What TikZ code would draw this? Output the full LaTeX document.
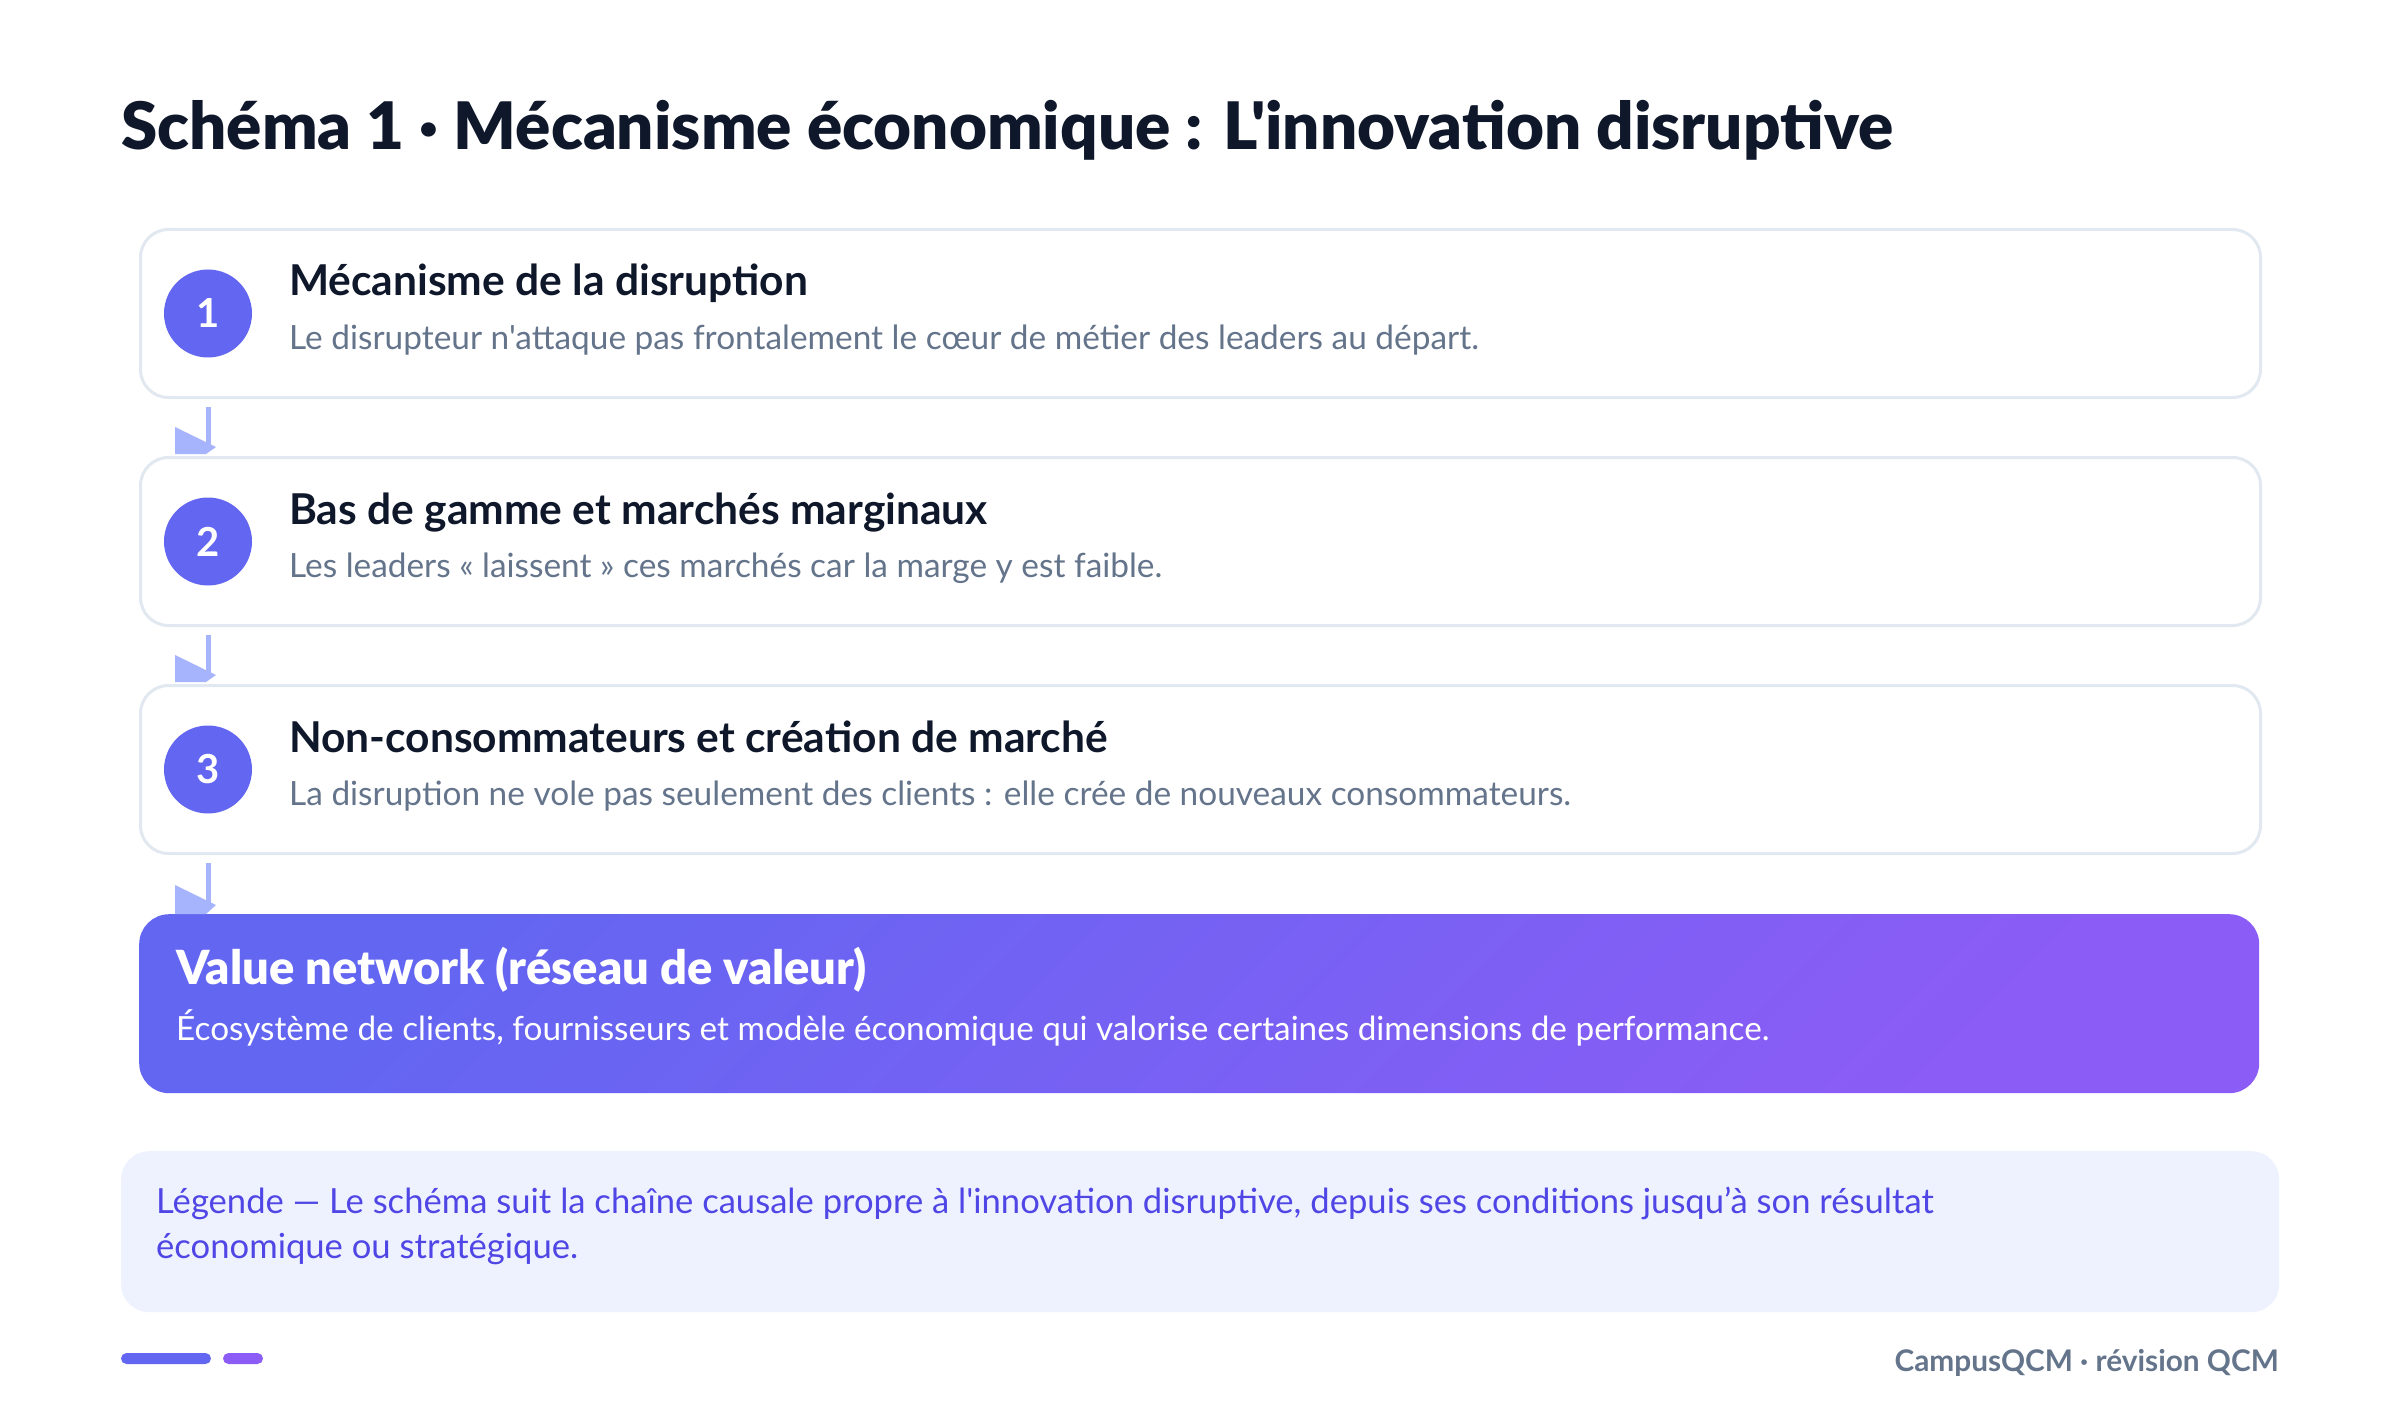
\documentclass[tikz,border=0pt]{standalone}
\usepackage{fontspec}
\setmainfont{Lato}[Ligatures=TeXOff]
\newfontfamily\heavyfont{Lato Black}[Ligatures=TeXOff]
\usetikzlibrary{calc}
\definecolor{ink}{HTML}{0F172A}
\definecolor{muted}{HTML}{64748B}
\definecolor{cardborder}{HTML}{E2E8F0}
\definecolor{indigo}{HTML}{6366F1}
\definecolor{violet}{HTML}{8B5CF6}
\definecolor{arrowc}{HTML}{A5B4FC}
\definecolor{legbg}{HTML}{EEF2FF}
\definecolor{legtext}{HTML}{4F46E5}
\tikzset{
  card/.style={draw=cardborder, line width=3pt, fill=white, rounded corners=28pt,
    minimum width=2120pt, minimum height=168pt, anchor=north west, inner sep=0pt},
  num/.style={circle, fill=indigo, minimum size=88pt, inner sep=0pt, text=white,
    font=\fontsize{40}{40}\selectfont\bfseries},
  ctitle/.style={anchor=base west, inner sep=0pt, text=ink, font=\fontsize{42.5}{46}\selectfont\bfseries},
  csub/.style={anchor=base west, inner sep=0pt, text=muted, font=\fontsize{33.4}{38}\selectfont},
  conn/.style={draw=arrowc, line width=5pt},
  head/.style={fill=arrowc},
}
\begin{document}
\begin{tikzpicture}[x=1pt,y=-1pt]
\useasboundingbox (0,0) rectangle (2400,1420);
\fill[white] (0,0) rectangle (2400,1420);

\node[anchor=base west, inner sep=0pt, text=ink, font=\fontsize{65.5}{70}\selectfont\heavyfont] (title) at (121,150)
  {Schéma 1 · Mécanisme économique : L'innovation disruptive};

% cards
\node[card] (b1) at (139,228) {};
\node[card] (b2) at (139,456) {};
\node[card] (b3) at (139,684) {};
\node[anchor=north west, inner sep=0pt, minimum width=2120pt, minimum height=179pt,
  rounded corners=30pt, top color=indigo, bottom color=violet, shading angle=45] (b4) at (139,914) {};

\node[num] (n1) at ($(b1.west)+(69,0)$) {1};
\node[num] (n2) at ($(b2.west)+(69,0)$) {2};
\node[num] (n3) at ($(b3.west)+(69,0)$) {3};

\node[ctitle] (t1) at (289,296) {Mécanisme de la disruption};
\node[csub] (s1) at (289,349) {Le disrupteur n'attaque pas frontalement le cœur de métier des leaders au départ.};
\node[ctitle] (t2) at (289,524) {Bas de gamme et marchés marginaux};
\node[csub] (s2) at (289,577) {Les leaders « laissent » ces marchés car la marge y est faible.};
\node[ctitle] (t3) at (289,752) {Non-consommateurs et création de marché};
\node[csub] (s3) at (289,805) {La disruption ne vole pas seulement des clients : elle crée de nouveaux consommateurs.};
\node[anchor=base west, inner sep=0pt, text=white, font=\fontsize{47}{50}\selectfont\heavyfont] (t4) at (176,984) {Value network (réseau de valeur)};
\node[anchor=base west, inner sep=0pt, text=white, font=\fontsize{33.3}{38}\selectfont] (s4) at (176,1040) {Écosystème de clients, fournisseurs et modèle économique qui valorise certaines dimensions de performance.};

% connectors
\foreach \a/\b/\n in {b1/b2/n2, b2/b3/n3} {
  \draw[conn] ($(\n |- \a.south)+(0,8)$) -- ($(\n |- \b.north)+(0,-9)$);
  \fill[head] ($(\n |- \b.north)+(-33,-29)$) -- ($(\n |- \b.north)+(8,-9)$) -- ($(\n |- \b.north)+(-2,-2)$) -- ($(\n |- \b.north)+(-33,-2)$) -- cycle;
}
\coordinate (x4) at (n3 |- b4.north);
\draw[conn] ($(n3 |- b3.south)+(0,8)$) -- ($(x4)+(0,-9)$);
\fill[head] ($(x4)+(-33,-29)$) -- ($(x4)+(8,-9)$) -- ($(x4)+(-2,0)$) -- ($(x4)+(-33,0)$) -- cycle;

% legend
\node[anchor=north west, inner sep=0pt, fill=legbg, rounded corners=28pt, minimum width=2158pt, minimum height=161pt] (leg) at (121,1151) {};
\node[anchor=base west, inner sep=0pt, text=legtext, font=\fontsize{34.6}{40}\selectfont] (l1) at (156,1213)
  {Légende — Le schéma suit la chaîne causale propre à l'innovation disruptive, depuis ses conditions jusqu’à son résultat};
\node[anchor=base west, inner sep=0pt, text=legtext, font=\fontsize{34.6}{40}\selectfont] (l2) at (156,1258)
  {économique ou stratégique.};

% footer
\fill[indigo, rounded corners=5.5pt] (121,1353) rectangle (211,1364);
\fill[violet, rounded corners=5.5pt] (223,1353) rectangle (263,1364);
\node[anchor=base east, inner sep=0pt, text=muted, font=\fontsize{29.8}{32}\selectfont\bfseries] (foot) at (2279,1371) {CampusQCM · révision QCM};
\end{tikzpicture}
\end{document}
